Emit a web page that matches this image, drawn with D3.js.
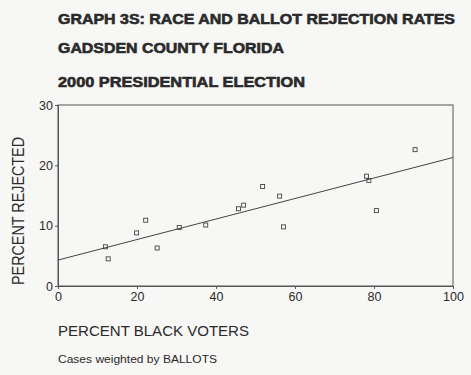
<!DOCTYPE html>
<html>
<head>
<meta charset="utf-8">
<script src="https://cdn.jsdelivr.net/npm/d3@7"></script>
<style>
  body { margin: 0; background: #f7f7f5; }
  svg { display: block; }
</style>
</head>
<body>
<svg class="chart"></svg>
<script>
// Chart values
var titleLines = ["GRAPH 3S: RACE AND BALLOT REJECTION RATES",
  "GADSDEN COUNTY FLORIDA",
  "2000 PRESIDENTIAL ELECTION"];
var pctBlack = [12.0, 12.7, 19.9, 22.2, 25.1, 30.7, 37.4, 45.7, 47.0, 51.8, 56.1, 57.1, 78.1, 78.7, 80.6, 90.4];
var pctRejected = [6.5, 4.5, 8.8, 10.9, 6.3, 9.7, 10.1, 12.8, 13.4, 16.5, 14.9, 9.8, 18.2, 17.5, 12.5, 22.6];
var fitX = [0, 100];
var fitY = [4.3, 21.3];
var xTicks = [0, 20, 40, 60, 80, 100];
var yTicks = [0, 10, 20, 30];

var width = 471, height = 375;
var margin = {top: 105, right: 18, bottom: 89, left: 58};
var plotW = width - margin.left - margin.right,
  plotH = height - margin.top - margin.bottom;

var ink = "#2a2a2a";
var font = "Liberation Sans, Arial, sans-serif";

var chart = d3.select(".chart")
  .attr("width", width)
  .attr("height", height);

// Title block, heavy face stretched to the scanned widths
var titleY = [24, 53, 87],
  titleW = [397, 226, 247];
chart.selectAll("text.title")
  .data(titleLines)
  .enter().append("text")
    .attr("class", "title")
    .attr("x", margin.left)
    .attr("y", function(d, i) { return titleY[i]; })
    .attr("textLength", function(d, i) { return titleW[i]; })
    .attr("lengthAdjust", "spacingAndGlyphs")
    .attr("font-family", font)
    .attr("font-weight", "bold")
    .attr("font-size", 15)
    .attr("fill", ink)
    .attr("stroke", ink)
    .attr("stroke-width", 0.6)
    .text(function(d) { return d; });

var body = chart.append("g")
  .attr("transform", "translate(" + margin.left + "," + margin.top + ")");

var x = d3.scaleLinear().domain([0, 100]).range([0, plotW]);
var y = d3.scaleLinear().domain([0, 30]).range([plotH, 0]);

// Frame around the plot
body.append("rect")
  .attr("width", plotW)
  .attr("height", plotH)
  .attr("fill", "none")
  .attr("stroke", "#555")
  .attr("stroke-width", 1);

var xAxis = d3.axisBottom(x).tickValues(xTicks).tickSize(3).tickPadding(3);
var yAxis = d3.axisLeft(y).tickValues(yTicks).tickSize(3).tickPadding(2);

var gx = body.append("g")
  .attr("transform", "translate(0," + plotH + ")")
  .call(xAxis);
var gy = body.append("g").call(yAxis);

[gx, gy].forEach(function(g) {
  g.select(".domain").attr("stroke", "#555");
  g.selectAll(".tick line").attr("stroke", "#555");
  g.selectAll(".tick text")
    .attr("fill", ink)
    .attr("font-family", font)
    .attr("font-size", 12.5);
});

// Regression line
var line = d3.line()
  .x(function(d) { return x(d[0]); })
  .y(function(d) { return y(d[1]); });
body.append("path")
  .datum(d3.zip(fitX, fitY))
  .attr("d", line)
  .attr("fill", "none")
  .attr("stroke", "#444")
  .attr("stroke-width", 1);

// Points as small open squares
body.selectAll("rect.pt")
  .data(d3.zip(pctBlack, pctRejected))
  .enter().append("rect")
    .attr("class", "pt")
    .attr("x", function(d) { return x(d[0]) - 2; })
    .attr("y", function(d) { return y(d[1]) - 2; })
    .attr("width", 4)
    .attr("height", 4)
    .attr("fill", "none")
    .attr("stroke", "#444")
    .attr("stroke-width", 0.9);

// Axis titles
chart.append("text")
  .attr("transform", "translate(24," + (margin.top + plotH - 1) + ") rotate(-90)")
  .attr("textLength", 148)
  .attr("lengthAdjust", "spacingAndGlyphs")
  .attr("font-family", font)
  .attr("font-size", 16)
  .attr("fill", ink)
  .text("PERCENT REJECTED");

chart.append("text")
  .attr("x", margin.left)
  .attr("y", 336)
  .attr("textLength", 191)
  .attr("lengthAdjust", "spacingAndGlyphs")
  .attr("font-family", font)
  .attr("font-size", 15)
  .attr("fill", ink)
  .text("PERCENT BLACK VOTERS");

chart.append("text")
  .attr("x", margin.left)
  .attr("y", 363)
  .attr("textLength", 159)
  .attr("lengthAdjust", "spacingAndGlyphs")
  .attr("font-family", font)
  .attr("font-size", 11.5)
  .attr("fill", ink)
  .text("Cases weighted by BALLOTS");
</script>
</body>
</html>
